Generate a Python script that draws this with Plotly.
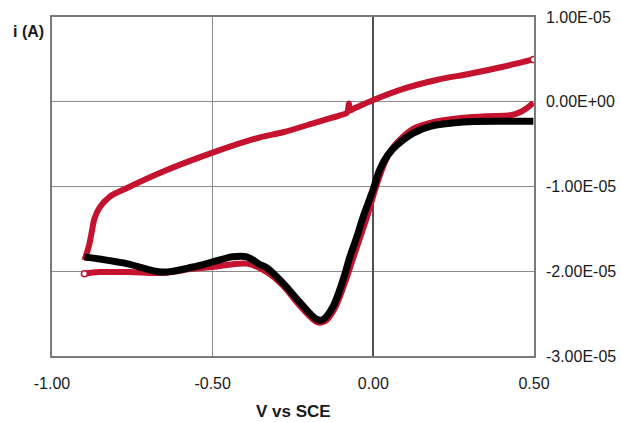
import plotly.graph_objects as go

# Black series (one scan)
black_v = [-0.899, -0.768, -0.656, -0.562, -0.500, -0.438, -0.394, -0.353, -0.331, -0.281,
           -0.228, -0.175, -0.157, -0.126, -0.094, -0.073, -0.051, -0.032, -0.001, 0.020,
           0.045, 0.074, 0.124, 0.177, 0.280, 0.395, 0.498]
black_i = [-1.83e-5, -1.91e-5, -2.01e-5, -1.95e-5, -1.89e-5, -1.83e-5, -1.83e-5, -1.92e-5, -1.96e-5, -2.14e-5,
           -2.37e-5, -2.57e-5, -2.57e-5, -2.42e-5, -2.10e-5, -1.83e-5, -1.59e-5, -1.36e-5, -1.04e-5, -0.80e-5,
           -0.63e-5, -0.51e-5, -0.37e-5, -0.29e-5, -0.24e-5, -0.23e-5, -0.23e-5]

# Red series, forward (cathodic) branch
red_fwd_v = [-0.899, -0.852, -0.759, -0.656, -0.562, -0.500, -0.394, -0.331, -0.281, -0.228,
             -0.175, -0.150, -0.119, -0.087, -0.065, -0.040, -0.018, 0.007, 0.030, 0.055,
             0.090, 0.124, 0.177, 0.280, 0.354, 0.426, 0.458, 0.480, 0.498]
red_fwd_i = [-2.03e-5, -2.01e-5, -2.01e-5, -2.02e-5, -1.97e-5, -1.95e-5, -1.91e-5, -2.01e-5, -2.17e-5, -2.41e-5,
             -2.60e-5, -2.59e-5, -2.43e-5, -2.12e-5, -1.87e-5, -1.59e-5, -1.34e-5, -1.02e-5, -0.77e-5, -0.57e-5,
             -0.42e-5, -0.32e-5, -0.25e-5, -0.19e-5, -0.17e-5, -0.16e-5, -0.12e-5, -0.07e-5, -0.01e-5]

# Red series, reverse branch
red_rev_v = [0.498, 0.400, 0.300, 0.200, 0.100, 0.000, -0.060, -0.072, -0.076,
             -0.082, -0.104, -0.175, -0.281, -0.353, -0.500, -0.665, -0.768, -0.820, -0.852,
             -0.868, -0.876, -0.885, -0.899]
red_rev_i = [0.50e-5, 0.41e-5, 0.33e-5, 0.26e-5, 0.16e-5, 0.02e-5, -0.08e-5, -0.10e-5, -0.02e-5,
             -0.13e-5, -0.16e-5, -0.24e-5, -0.36e-5, -0.42e-5, -0.60e-5, -0.84e-5, -1.02e-5, -1.12e-5, -1.25e-5,
             -1.38e-5, -1.53e-5, -1.70e-5, -1.87e-5]

x_ticks = [-1.0, -0.5, 0.0, 0.5]
x_labels = ["-1.00", "-0.50", "0.00", "0.50"]
y_ticks = [1e-5, 0, -1e-5, -2e-5, -3e-5]
y_labels = ["1.00E-05", "0.00E+00", "-1.00E-05", "-2.00E-05", "-3.00E-05"]

RED = "#C4122F"
FONT = "Liberation Sans, Arial, sans-serif"

fig = go.Figure()
for v, i in [(red_fwd_v, red_fwd_i), (red_rev_v, red_rev_i)]:
    fig.add_trace(go.Scatter(x=v, y=i, mode="lines",
                             line=dict(color=RED, width=6, shape="spline", smoothing=0.9),
                             showlegend=False, hoverinfo="skip"))
fig.add_trace(go.Scatter(x=[red_fwd_v[0], red_rev_v[0]], y=[red_fwd_i[0], red_rev_i[0]],
                         mode="markers",
                         marker=dict(symbol="circle", size=6, color="white",
                                     line=dict(color=RED, width=1.5)),
                         showlegend=False, hoverinfo="skip"))
fig.add_trace(go.Scatter(x=black_v, y=black_i, mode="lines",
                         line=dict(color="black", width=7, shape="spline", smoothing=0.9),
                         showlegend=False, hoverinfo="skip"))

fig.update_layout(
    width=621, height=422,
    margin=dict(l=52, r=87, t=17, b=66, autoexpand=False),
    paper_bgcolor="white", plot_bgcolor="white",
    font=dict(family=FONT, size=16, color="#1a1a1a"),
    xaxis=dict(range=[-1.0, 0.5], tickvals=x_ticks, ticktext=x_labels,
               showgrid=True, gridcolor="#8a8a8a", gridwidth=1,
               zeroline=True, zerolinecolor="#505050", zerolinewidth=1.5,
               showline=True, linecolor="#7a7a7a", linewidth=1.5, mirror=True,
               ticks="", ticklabelstandoff=12, fixedrange=True, automargin=False),
    yaxis=dict(range=[-3e-5, 1e-5], tickvals=y_ticks, ticktext=y_labels, side="right",
               showgrid=True, gridcolor="#8a8a8a", gridwidth=1,
               zeroline=True, zerolinecolor="#8a8a8a", zerolinewidth=1,
               showline=True, linecolor="#7a7a7a", linewidth=1.5, mirror=True,
               ticks="", ticklabelstandoff=7, fixedrange=True, automargin=False),
    annotations=[
        dict(text="<b>i (A)</b>", x=(28 - 52) / 482, y=(356 - 31) / 339,
             xref="paper", yref="paper", showarrow=False,
             xanchor="center", yanchor="middle",
             font=dict(family=FONT, size=16, color="#1a1a1a")),
        dict(text="<b>V vs SCE</b>", x=0.5, y=(356 - 411) / 339, xref="paper", yref="paper",
             showarrow=False, xanchor="center", yanchor="middle",
             font=dict(family=FONT, size=17, color="#1a1a1a")),
    ],
)

fig.write_html("out.html", config={"displayModeBar": False},
               post_script="document.body.style.margin='0';document.body.style.overflow='hidden';")
